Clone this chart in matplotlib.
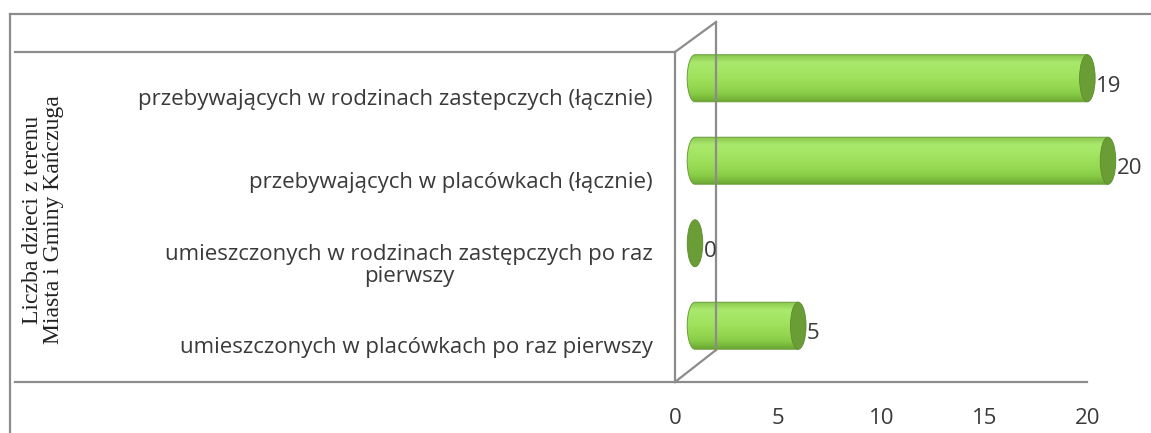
import numpy as np
import matplotlib
matplotlib.use("Agg")
import matplotlib.pyplot as plt
from matplotlib.patches import Ellipse, PathPatch
from matplotlib.path import Path
from matplotlib.lines import Line2D
from matplotlib.transforms import ScaledTranslation
from matplotlib.colors import LinearSegmentedColormap

# data (top to bottom, as in the chart)
categories = [
    "przebywających w rodzinach zastepczych (łącznie)",
    "przebywających w placówkach (łącznie)",
    "umieszczonych w rodzinach zastępczych po raz\npierwszy",
    "umieszczonych w placówkach po raz pierwszy",
]
values = [19, 20, 0, 5]
x_ticks = [0, 5, 10, 15, 20]
axis_title = "Liczba dzieci z terenu\nMiasta i Gminy Kańczuga"

W, H = 1151, 433
DPI = 100
GRID = "#8c8c8c"
TXT = "#3a3a3a"
LABEL_FONT = ["Open Sans", "DejaVu Sans"]
FS = 16

fig = plt.figure(figsize=(W / DPI, H / DPI), dpi=DPI)

def px_line(x0, y0, x1, y1, **kw):
    # line in pixel coords measured from the top-left corner
    fig.add_artist(Line2D([x0 / W, x1 / W], [1 - y0 / H, 1 - y1 / H],
                          transform=fig.transFigure, color=GRID, lw=1.6, **kw))

# outer frame + category area lines
px_line(10, 14, W + 5, 14)
px_line(10, 14, 10, H + 5)
px_line(15, 52, 675, 52)
px_line(15, 382, 1087, 382)

# plot area: x=0 at 675 px, x=20 at 1088 px, from y=52 to y=382
ax = fig.add_axes([675 / W, 1 - 382 / H, 413 / W, 330 / H])
ax.set_facecolor("none")
for s in ["top", "right", "bottom"]:
    ax.spines[s].set_visible(False)
ax.spines["left"].set_color(GRID)
ax.spines["left"].set_linewidth(1.6)

# back wall of the 3d box
dx, dy_top, dy_bot = 41 / 413, 30 / 330, 32 / 330
for xs, ys in [([0, dx], [1, 1 + dy_top]),
               ([dx, dx], [1 + dy_top, dy_bot]),
               ([0, dx], [0, dy_bot])]:
    ax.plot(xs, ys, transform=ax.transAxes, color=GRID, lw=1.6, clip_on=False)

# cylinders, pushed half way into the depth
tr = ax.transData + ScaledTranslation(20 / DPI, 15 / DPI, fig.dpi_scale_trans)
rx = 7.8 / 20.65      # cap half width in data units
h = 0.57              # cylinder height in category units
cmap = LinearSegmentedColormap.from_list(
    "cyl", ["#86c24a", "#a9e86c", "#a5e665", "#9fe05c", "#96d852", "#89cc47", "#6ca934"])
grad = np.linspace(0, 1, 64).reshape(-1, 1)

ax.set_xlim(0, 20)
ax.set_ylim(len(categories) - 0.5, -0.5)

for i, v in enumerate(values):
    if v > 0:
        t = np.linspace(np.pi / 2, 3 * np.pi / 2, 40)
        xs = np.concatenate([[v, v], rx * np.cos(t)])
        ys = np.concatenate([[i - h / 2, i + h / 2], i + h / 2 * np.sin(t)])
        verts = list(zip(xs, ys)) + [(xs[0], ys[0])]
        body = PathPatch(Path(verts, closed=True), transform=tr, facecolor="none",
                         edgecolor="#6a9d3a", lw=0.7, clip_on=False, zorder=2)
        ax.add_patch(body)
        im = ax.imshow(grad, cmap=cmap, aspect="auto", origin="upper",
                       extent=(-rx, v + rx, i + h / 2, i - h / 2),
                       transform=tr, interpolation="bilinear", zorder=1)
        im.set_clip_box(fig.bbox)
        im.set_clip_path(body)
    cap = Ellipse((v, i), 2 * rx, h, transform=tr, facecolor="#6b9d36",
                  edgecolor="#5c8c2c", lw=0.6, zorder=3, clip_on=False)
    ax.add_patch(cap)
    ax.annotate(str(v), xy=(v + rx, i), xycoords=tr, xytext=(1, -8),
                textcoords="offset pixels", ha="left", va="center",
                fontsize=FS, color=TXT, family=LABEL_FONT, zorder=4,
                annotation_clip=False)

ax.set_xlim(0, 20)
ax.set_ylim(len(categories) - 0.5, -0.5)

ax.set_xticks(x_ticks)
ax.set_xticklabels([str(x) for x in x_ticks], family=LABEL_FONT, fontsize=FS, color=TXT)
ax.set_yticks(range(len(categories)))
ax.set_yticklabels(categories, family=LABEL_FONT, fontsize=FS, color=TXT,
                   multialignment="center", linespacing=1.1)
ax.tick_params(axis="x", length=0, pad=19)
ax.tick_params(axis="y", length=0, pad=16)
shift = ScaledTranslation(0, -4 / DPI, fig.dpi_scale_trans)
for lbl in ax.get_yticklabels():
    lbl.set_transform(lbl.get_transform() + shift)

fig.text(43 / W, 1 - 220 / H, axis_title, rotation=90, ha="center", va="center",
         family="Liberation Serif", fontsize=17, color="#222222", linespacing=1.05)

fig.savefig("out.png", dpi=DPI)
